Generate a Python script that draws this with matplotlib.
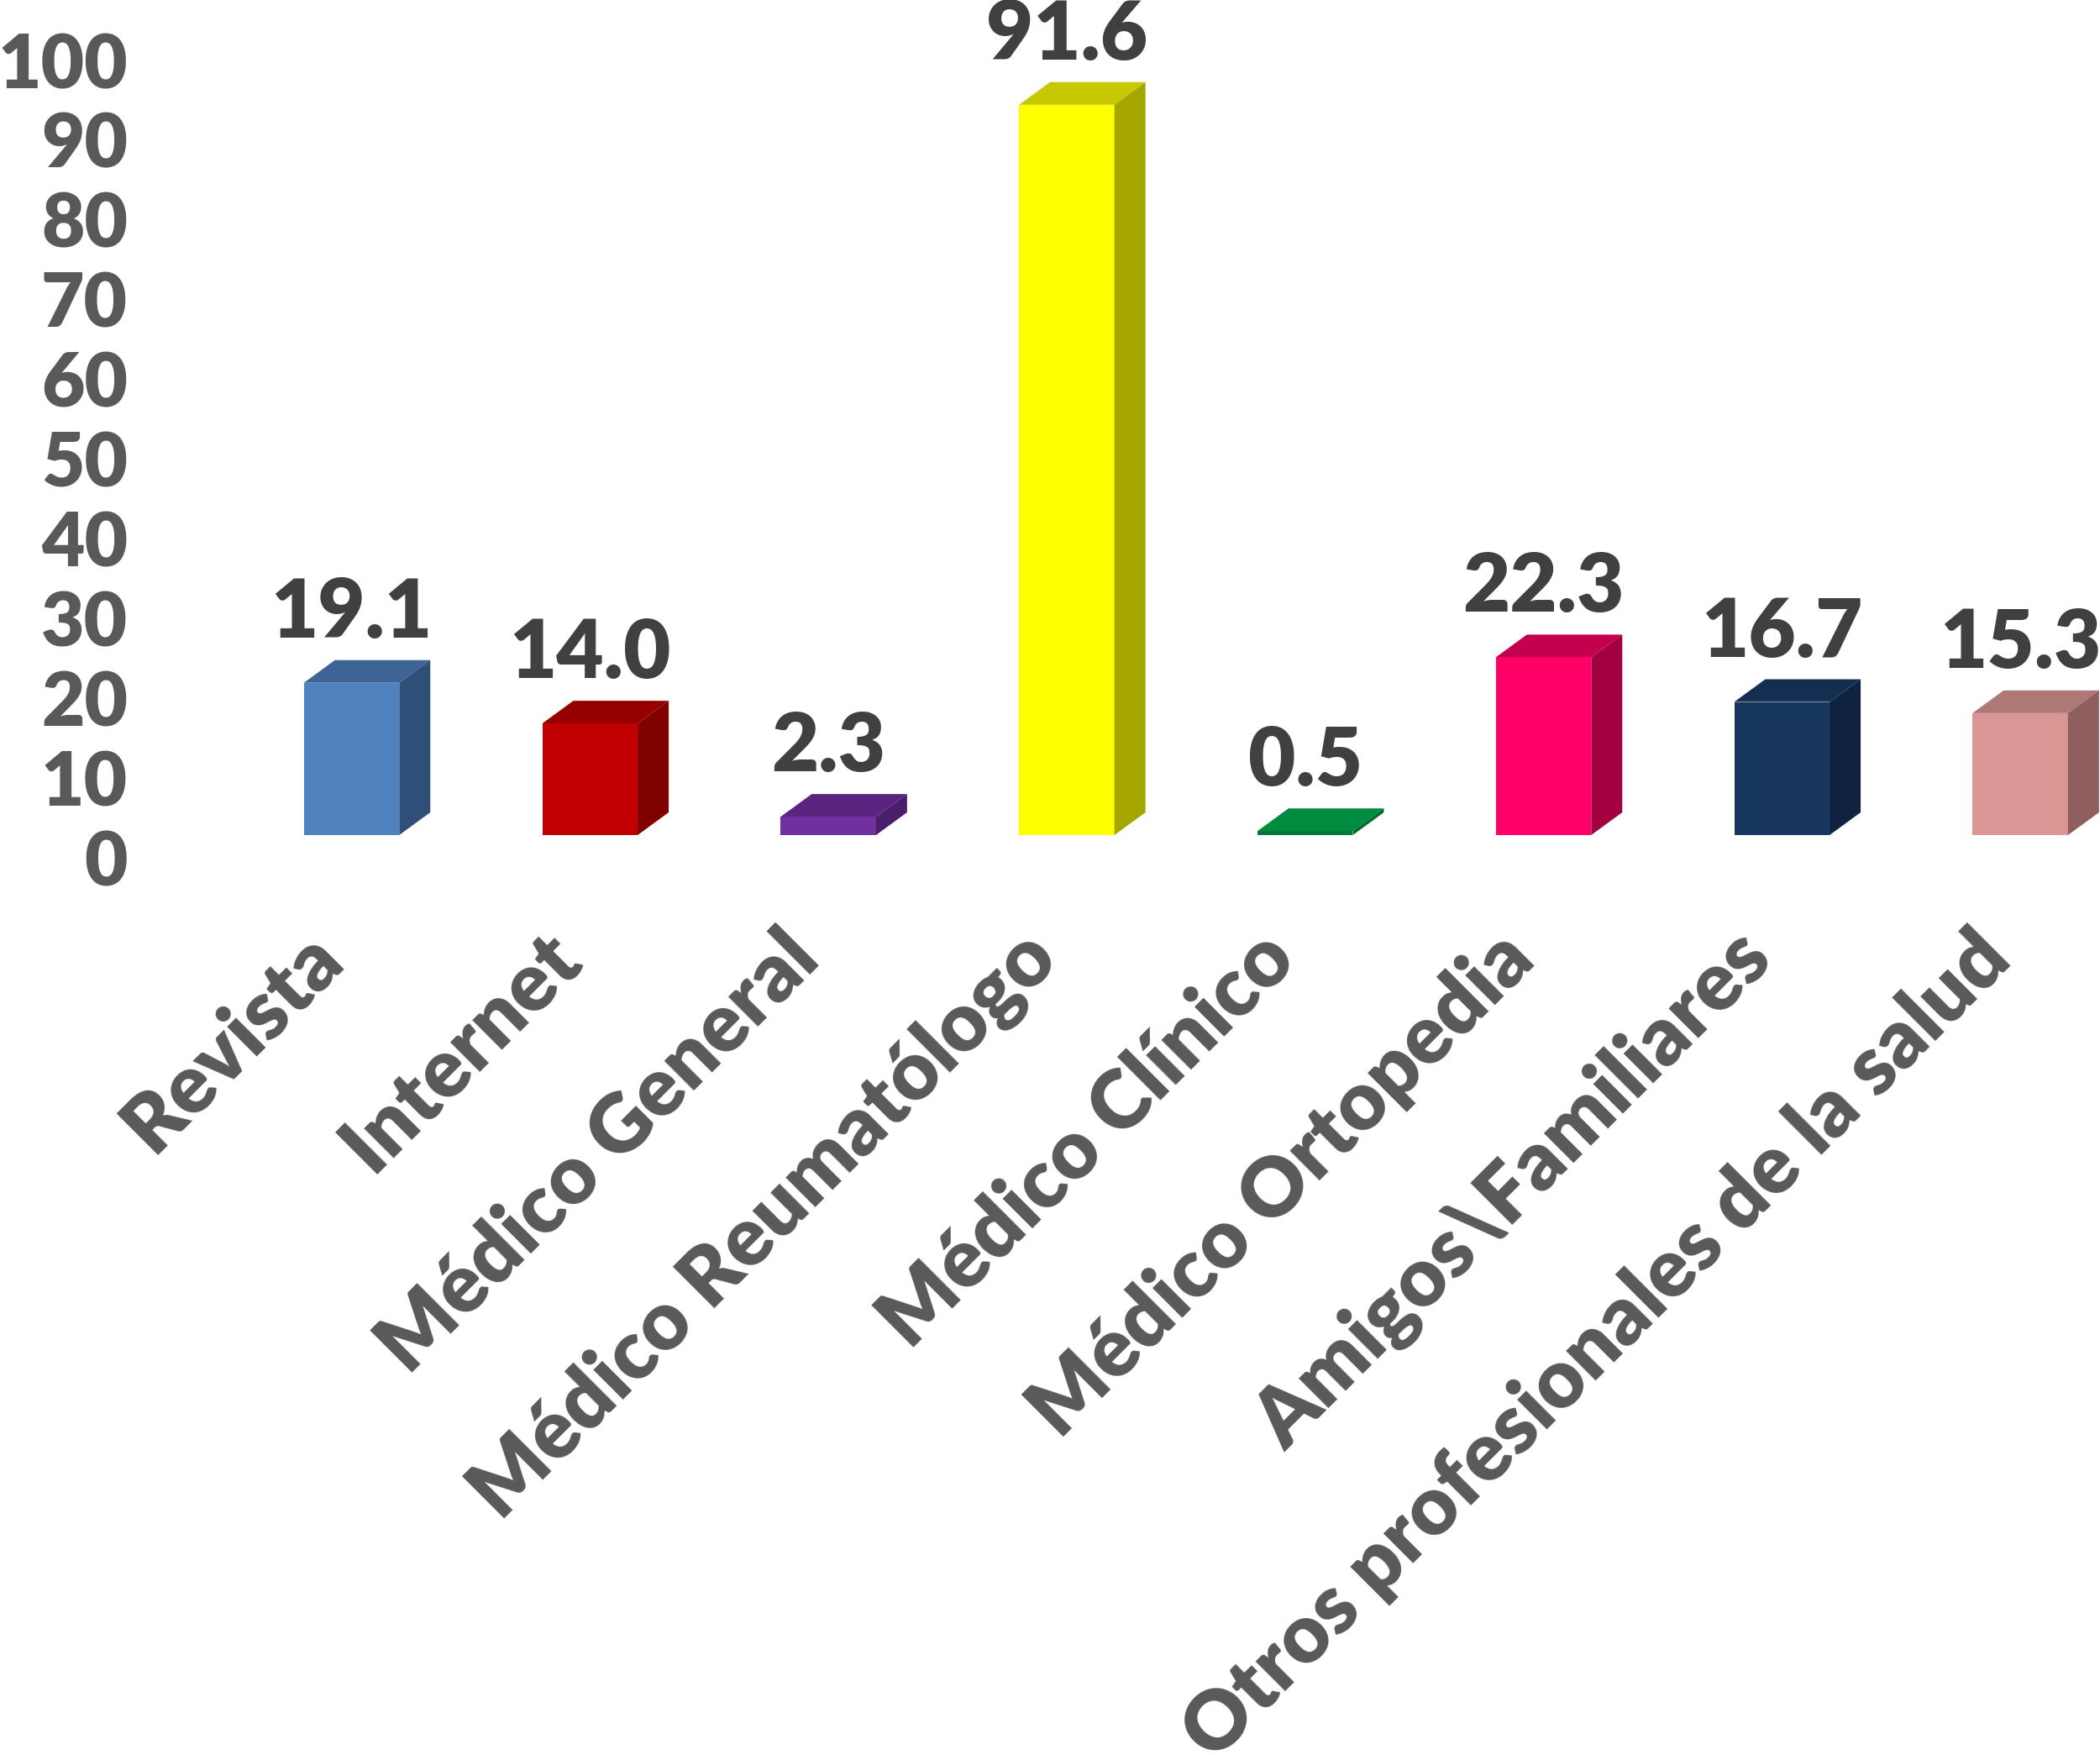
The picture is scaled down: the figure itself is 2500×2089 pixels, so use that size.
import matplotlib
matplotlib.use("Agg")
import matplotlib.pyplot as plt
import numpy as np
from matplotlib.patches import Polygon

plt.rcParams['font.family'] = ['Lato', 'DejaVu Sans']
plt.rcParams['font.weight'] = 'heavy'

categories = ["Revista", "Internet", "Médico General", "Médico Reumatólogo",
              "Médico Clínico", "Médico Ortopedia", "Amigos\\Familiares",
              "Otros profesionales de la salud"]
values = [19.1, 14.0, 2.3, 91.6, 0.5, 22.3, 16.7, 15.3]
value_labels = ["19.1", "14.0", "2.3", "91.6", "0.5", "22.3", "16.7", "15.3"]

front_colors = ["#4F81BD", "#C00000", "#7030A0", "#FFFF00", "#007A36", "#FF0066", "#17375E", "#D99694"]
top_colors = ["#3D6495", "#960000", "#5A2480", "#C8C800", "#008C3F", "#C4004E", "#132E50", "#AE7876"]
side_colors = ["#2F4F78", "#800000", "#4A1E6B", "#A6A600", "#006B30", "#A3003F", "#0F2340", "#8E5F5E"]

yticks = np.arange(0, 101, 10)

W, H = 2500, 2089
fig = plt.figure(figsize=(W / 100, H / 100), dpi=100)

base_px = 994          # baseline in pixels from top
px_per_unit = 9.49     # vertical scale
x0_px = 418.5          # centre of first bar
step_px = 283.8        # spacing between bars
left_px = 170
ymin = -4              # room below the floor for the "0" label

bottom_px = base_px - ymin * px_per_unit
ax = fig.add_axes([left_px / W, (H - bottom_px) / H, 1 - left_px / W, bottom_px / H])

bw = 0.4        # front width
ddx = 37 / step_px       # depth offset x
ddy = 27 / px_per_unit   # depth offset y

x = np.arange(len(values))
ax.bar(x, values, width=bw, color=front_colors, zorder=2)
for i, v in enumerate(values):
    l, r = x[i] - bw / 2, x[i] + bw / 2
    top = Polygon([(l, v), (r, v), (r + ddx, v + ddy), (l + ddx, v + ddy)],
                  closed=True, facecolor=top_colors[i], edgecolor='none', zorder=2)
    side = Polygon([(r, 0), (r + ddx, ddy), (r + ddx, v + ddy), (r, v)],
                   closed=True, facecolor=side_colors[i], edgecolor='none', zorder=2)
    ax.add_patch(top)
    ax.add_patch(side)
    ax.text(x[i], v + ddy + 27 / px_per_unit, value_labels[i], ha='center', va='baseline',
            fontsize=70, color='#404040', clip_on=False)

# the value axis sits a little lower than the bar floor, as in the original
tick_shift = 2.8
ax.set_yticks(yticks - tick_shift, [str(t) for t in yticks])
ax.tick_params(axis='y', length=0, pad=13, labelsize=64, labelcolor='#595959')
ax.set_xticks([])

# category labels, rotated 45 degrees under each bar
for i, c in enumerate(categories):
    ax.text(x[i] - 59 / step_px, -100 / px_per_unit, c, rotation=45, ha='right', va='top',
            rotation_mode='anchor', fontsize=70, color='#595959', clip_on=False)

ax.set_xlim((left_px - x0_px) / step_px, (W - x0_px) / step_px)
ax.set_ylim(ymin, base_px / px_per_unit)

for s in ax.spines.values():
    s.set_visible(False)
ax.set_facecolor('none')

fig.savefig("out.png", dpi=100, facecolor='white')
